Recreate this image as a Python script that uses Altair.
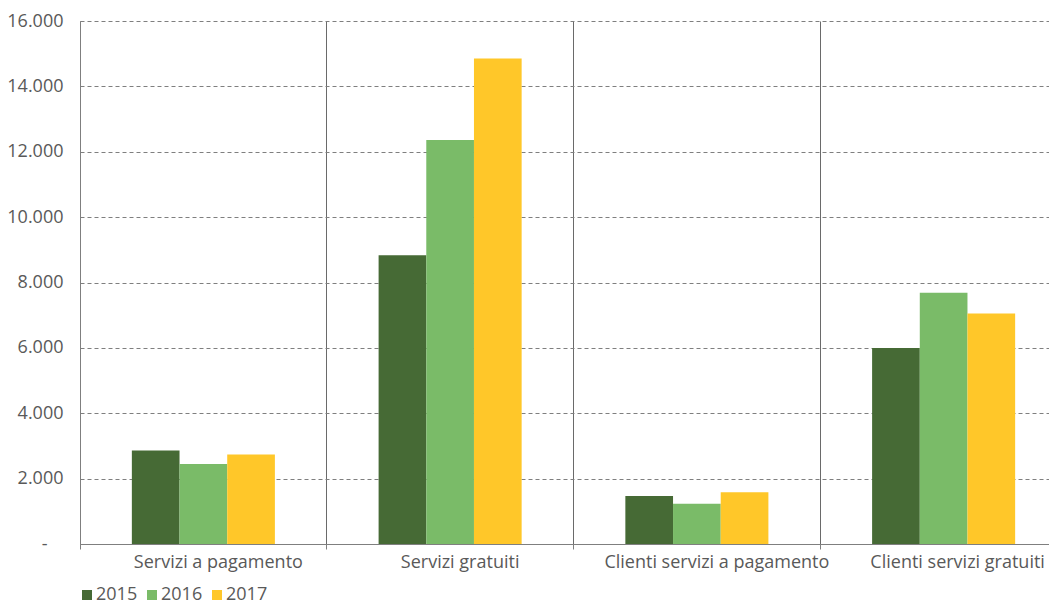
import altair as alt
import pandas as pd

categories = ["Servizi a pagamento", "Servizi gratuiti",
              "Clienti servizi a pagamento", "Clienti servizi gratuiti"]
years = ["2015", "2016", "2017"]
v2015 = [2860, 8830, 1470, 6000]
v2016 = [2450, 12360, 1235, 7690]
v2017 = [2740, 14850, 1580, 7055]
colors = ["#466a35", "#7abb68", "#ffc729"]
y_ticks = [0, 2000, 4000, 6000, 8000, 10000, 12000, 14000, 16000]

rows = []
for yr, vals in zip(years, [v2015, v2016, v2017]):
    for c, v in zip(categories, vals):
        rows.append({"categoria": c, "anno": yr, "valore": v})
df = pd.DataFrame(rows)

FONT = "Open Sans"
TXT = "#595959"

label_offset = {
    "condition": [
        {"test": "datum.value === 'Servizi a pagamento'", "value": 15},
        {"test": "datum.value === 'Servizi gratuiti'", "value": 10},
        {"test": "datum.value === 'Clienti servizi a pagamento'", "value": 20},
    ],
    "value": 14,
}
y_label_padding = {
    "condition": {"test": "datum.value === 0", "value": 33},
    "value": 17,
}

# empty slots either side of the three bars inside each category band
offset_domain = ["_sx"] + years + ["_dx"]

chart = alt.Chart(df).mark_bar().encode(
    x=alt.X("categoria:N", sort=categories,
            scale=alt.Scale(paddingInner=0, paddingOuter=0, range=[0, 987]),
            axis=alt.Axis(title=None, labelAngle=0, bandPosition=0,
                          grid=True, gridColor="#6a6a6a", gridWidth=1,
                          domainColor="#7f7f7f", tickColor="#7f7f7f",
                          tickSize=5, labelPadding=4, labelFontSize=18,
                          labelColor=TXT, labelFont=FONT, labelLimit=0,
                          labelOffset=label_offset)),
    xOffset=alt.XOffset("anno:N",
                        scale=alt.Scale(domain=offset_domain, paddingInner=0,
                                        paddingOuter=0.0875)),
    y=alt.Y("valore:Q",
            scale=alt.Scale(domain=[0, 16000], nice=False),
            axis=alt.Axis(title=None, values=y_ticks, ticks=False, tickSize=0,
                          labelPadding=y_label_padding, labelFontSize=18,
                          labelColor=TXT, labelFont=FONT,
                          domainColor="#7f7f7f",
                          grid=True, gridColor="#7f7f7f", gridDash=[4, 3],
                          labelExpr="datum.value == 0 ? '-' : replace(format(datum.value, ','), ',', '.')")),
    color=alt.Color("anno:N", sort=years,
                    scale=alt.Scale(domain=years, range=colors),
                    legend=alt.Legend(title=None, orient="none", legendX=-2,
                                      legendY=565, direction="horizontal",
                                      symbolType="square", symbolSize=100,
                                      symbolStrokeWidth=0, labelFontSize=18,
                                      labelColor=TXT, labelFont=FONT,
                                      labelOffset=0, columnPadding=5,
                                      padding=0)),
).properties(
    width=969,
    height=523,
    autosize=alt.AutoSizeParams(type="none"),
    padding={"left": 72, "top": 13, "right": 0, "bottom": 59},
).configure_view(strokeWidth=0)

chart.save("out.html", embed_options={"renderer": "svg", "actions": False})
